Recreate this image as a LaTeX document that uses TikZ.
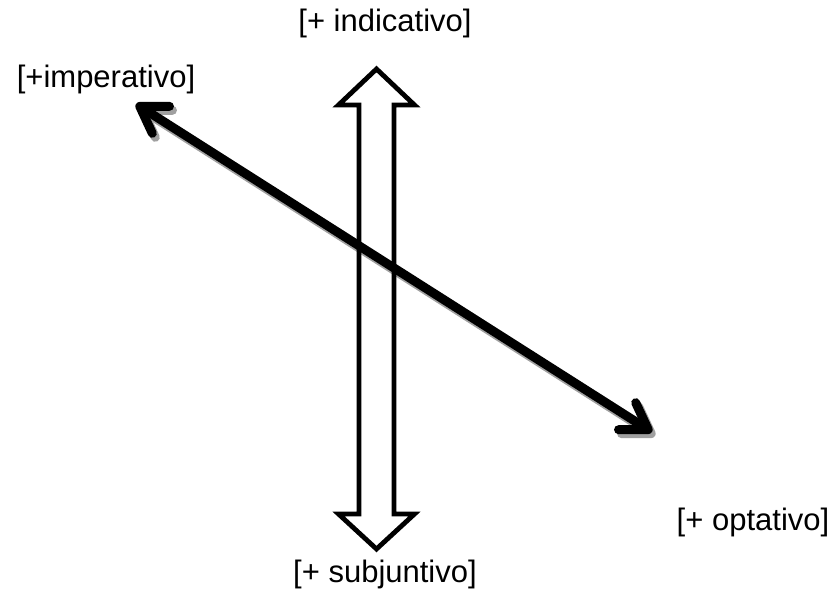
\documentclass[tikz,border=0pt]{standalone}
\usepackage{fontspec}
\setmainfont{Liberation Sans}
\usetikzlibrary{arrows.meta,positioning}
\definecolor{shadowGray}{RGB}{160,160,160}

\begin{document}
\begin{tikzpicture}[x=1pt,y=-1pt,
  lbl/.style={font=\fontsize{31}{37}\selectfont,anchor=base,inner sep=0pt},
  moodbarb/.tip={Straight Barb[length=25pt,width=32pt,line cap=round,line join=round]},
  modearrow/.style={line width=9pt,moodbarb-moodbarb},
  modeshadow/.style={modearrow,draw=shadowGray}]
  \useasboundingbox (0,0) rectangle (833,591);
  % mood labels
  \node[lbl] (ind) at (385,32) {[+ indicativo]};
  \node[lbl] (imp) at (106,88) {[+imperativo]};
  \node[lbl] (opt) at (753,530) {[+ optativo]};
  \node[lbl] (sub) at (385,582) {[+ subjuntivo]};
  \coordinate (impTip) at (136,104);
  \coordinate (optTip) at (652,432);
  % diagonal axis, shadow first
  \draw[modeshadow] ([shift={(3,4)}]impTip) -- ([shift={(3,4)}]optTip);
  % vertical block arrow
  \draw[line width=4.8pt,line join=miter]
    (376.5,69) -- (414.5,105) -- (394,105) -- (394,514) -- (414.5,514)
    -- (376.5,549) -- (338.5,514) -- (359,514) -- (359,105) -- (338.5,105) -- cycle;
  \draw[modearrow] (impTip) -- (optTip);
\end{tikzpicture}
\end{document}
